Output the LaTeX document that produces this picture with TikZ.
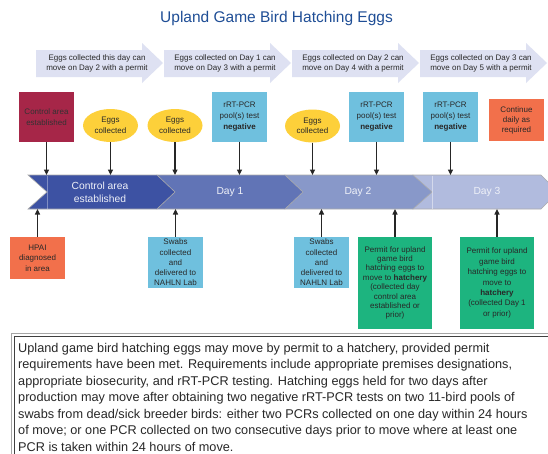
\documentclass[tikz,border=0pt]{standalone}
\usepackage{fontspec}
\setmainfont{Liberation Sans}
\usetikzlibrary{shapes.geometric,arrows.meta}
\definecolor{ttl}{RGB}{31,78,150}
\definecolor{lav}{RGB}{222,225,242}
\definecolor{crim}{RGB}{166,38,72}
\definecolor{yel}{RGB}{253,208,58}
\definecolor{lblue}{RGB}{111,192,222}
\definecolor{orng}{RGB}{242,112,75}
\definecolor{grn}{RGB}{29,180,127}
\definecolor{secA}{RGB}{61,82,163}
\definecolor{secB}{RGB}{97,116,182}
\definecolor{secC}{RGB}{136,152,201}
\definecolor{secD}{RGB}{177,187,222}
\definecolor{txt}{RGB}{40,40,40}
\tikzset{
  bx/.style={inner sep=0pt, align=center, text=txt, font=\fontsize{8}{10.5}\selectfont},
  rbox/.style={bx, minimum width=55pt, minimum height=50pt},
  egg/.style={bx, ellipse, fill=yel, minimum width=55pt, minimum height=33pt},
  arr/.style={line width=1.1pt, draw=black!85, -{Triangle[length=5.5pt,width=5pt]}},
  chev/.style={fill=lav},
  chevtxt/.style={inner sep=0pt, align=center, text=txt, font=\fontsize{8}{10}\selectfont},
  sect/.style={draw=gray!65, line width=0.6pt},
  sectxt/.style={inner sep=0pt, align=center, text=white!92!secA, font=\fontsize{10.3}{13}\selectfont},
  bodyline/.style={inner sep=0pt, anchor=base west, text=txt, font=\fontsize{12.7}{14}\selectfont}
}
\begin{document}
\begin{tikzpicture}[x=1pt,y=-1pt]
\useasboundingbox[fill=white] (0,0) rectangle (548,453);
\clip (0,0) rectangle (548,453);

% title
\node[inner sep=0pt, text=ttl, font=\fontsize{15.5}{18}\selectfont] (title) at (276.5,18) {Upland Game Bird Hatching Eggs};

% top chevrons
\foreach \s in {36,164,292,420}{
  \fill[chev] (\s,50) -- (\s+106,50) -- (\s+106,43) -- (\s+127,63) -- (\s+106,83) -- (\s+106,77) -- (\s,77) -- cycle;
}
\node[chevtxt] (a1) at (97,63) {Eggs collected this day can\\move on Day 2 with a permit};
\node[chevtxt] (a2) at (225,63) {Eggs collected on Day 1 can\\move on Day 3 with a permit};
\node[chevtxt] (a3) at (353,63) {Eggs collected on Day 2 can\\move on Day 4 with a permit};
\node[chevtxt] (a4) at (481,63) {Eggs collected on Day 3 can\\move on Day 5 with a permit};

% timeline
\filldraw[sect, fill=secD] (413,175) -- (541,175) -- (558,192) -- (541,209) -- (413,209) -- cycle;
\filldraw[sect, fill=secC] (285,175) -- (413,175) -- (432,192) -- (413,209) -- (285,209) -- cycle;
\filldraw[sect, fill=secB] (157,175) -- (285,175) -- (303,192) -- (285,209) -- (157,209) -- cycle;
\filldraw[sect, fill=secA] (28,175) -- (157,175) -- (175,192) -- (157,209) -- (28,209) -- (47,192) -- cycle;
\draw[white, opacity=0.35, line width=0.6pt] (47,175.5) -- (47,208.5);
\draw[white, opacity=0.45, line width=0.6pt] (432,175.5) -- (432,208.5);
\coordinate (ttop) at (0,175);
\coordinate (tbot) at (0,209);

\node[sectxt] (s1) at (100,192) {Control area\\established};
\node[sectxt] (s2) at (230,192) {Day 1};
\node[sectxt] (s3) at (358,192) {Day 2};
\node[sectxt] (s4) at (487,192) {Day 3};

% top row
\node[rbox, fill=crim, text=black!80] (ctrl) at (46.5,117) {Control area\\established};
\node[egg] (e1) at (110.5,125.5) {Eggs\\collected};
\node[egg] (e2) at (175,125.5) {Eggs\\collected};
\node[rbox, fill=lblue, font=\fontsize{8}{11}\selectfont] (p1) at (239.5,116.5) {rRT-PCR\\pool(s) test\\\textbf{negative}};
\node[egg] (e3) at (312.5,126) {Eggs\\collected};
\node[rbox, fill=lblue, font=\fontsize{8}{11}\selectfont] (p2) at (376.5,116.5) {rRT-PCR\\pool(s) test\\\textbf{negative}};
\node[rbox, fill=lblue, font=\fontsize{8}{11}\selectfont] (p3) at (450.5,116.5) {rRT-PCR\\pool(s) test\\\textbf{negative}};
\node[rbox, fill=orng, minimum height=42pt, font=\fontsize{8}{10}\selectfont] (cont) at (516.5,120) {Continue\\daily as\\required};

\foreach \n in {ctrl,e1,e2,p1,e3,p2,p3}{
  \draw[arr] (\n.south) -- (\n.south |- ttop);
}

% bottom row
\node[rbox, fill=orng, minimum height=42pt] (hpai) at (37.5,258) {HPAI\\diagnosed\\in area};
\node[rbox, fill=lblue, minimum height=51pt, font=\fontsize{8}{10.3}\selectfont] (w1) at (175.5,262.5) {Swabs\\collected\\and\\delivered to\\NAHLN Lab};
\node[rbox, fill=lblue, minimum height=51pt, font=\fontsize{8}{10.3}\selectfont] (w2) at (321.5,262.5) {Swabs\\collected\\and\\delivered to\\NAHLN Lab};
\node[rbox, fill=grn, minimum width=74pt, minimum height=92pt, font=\fontsize{8}{9.4}\selectfont] (g1) at (395,283) {Permit for upland\\game bird\\hatching eggs to\\move to \textbf{hatchery}\\(collected day\\control area\\established or\\prior)};
\node[rbox, fill=grn, minimum width=74pt, minimum height=92pt, font=\fontsize{8}{10.4}\selectfont] (g2) at (497,283) {Permit for upland\\game bird\\hatching eggs to\\move to\\\textbf{hatchery}\\(collected Day 1\\or prior)};

\foreach \n in {hpai,w1,w2,g1,g2}{
  \draw[arr] (\n.north) -- (\n.north |- tbot);
}

% bottom text box
\draw[gray!70, line width=0.8pt] (11,333) rectangle (570,480);
\draw[black!75, line width=0.8pt] (14,336) rectangle (567,477);
\node[bodyline] (l1) at (18,352) {Upland game bird hatching eggs may move by permit to a hatchery, provided permit};
\node[bodyline] (l2) at (18,368.5) {requirements have been met. Requirements include appropriate premises designations,};
\node[bodyline] (l3) at (18,385) {appropriate biosecurity, and rRT-PCR testing. Hatching eggs held for two days after};
\node[bodyline] (l4) at (18,401.5) {production may move after obtaining two negative rRT-PCR tests on two 11-bird pools of};
\node[bodyline] (l5) at (18,418) {swabs from dead/sick breeder birds: either two PCRs collected on one day within 24 hours};
\node[bodyline] (l6) at (18,434.5) {of move; or one PCR collected on two consecutive days prior to move where at least one};
\node[bodyline] (l7) at (18,451) {PCR is taken within 24 hours of move.};
\end{tikzpicture}
\end{document}
